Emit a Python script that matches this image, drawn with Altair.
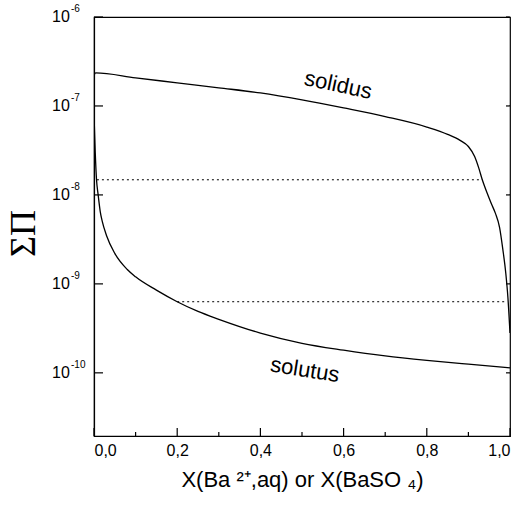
import altair as alt
import pandas as pd

# --- data ---
solidus_x = [0.0, 0.004, 0.1, 0.2, 0.3, 0.4, 0.5, 0.6, 0.7, 0.8, 0.85, 0.88, 0.9, 0.915, 0.925,
             0.933, 0.945, 0.955, 0.965, 0.975, 0.983, 0.99, 0.995, 1.0]
solidus_y = [2.2e-7, 2.35e-7, 2.07e-7, 1.82e-7, 1.6e-7, 1.4e-7, 1.17e-7, 9.5e-8, 7.6e-8, 5.8e-8,
             4.8e-8, 4.1e-8, 3.5e-8, 2.7e-8, 2.0e-8, 1.5e-8, 1.05e-8, 8.0e-9, 6.2e-9, 4.3e-9,
             2.4e-9, 1.3e-9, 7.0e-10, 2.8e-10]

solutus_x = [0.0, 0.003, 0.006, 0.01, 0.015, 0.02, 0.03, 0.05, 0.08, 0.1, 0.15, 0.2, 0.25, 0.3,
             0.4, 0.5, 0.6, 0.7, 0.8, 0.9, 1.0]
solutus_y = [8e-8, 3e-8, 1.5e-8, 1e-8, 6.5e-9, 5e-9, 3.5e-9, 2.2e-9, 1.45e-9, 1.2e-9, 8.5e-10,
             6.3e-10, 4.9e-10, 4.0e-10, 2.8e-10, 2.15e-10, 1.8e-10, 1.55e-10, 1.38e-10, 1.25e-10,
             1.14e-10]

dotted_x_start = [0.007, 0.2]
dotted_x_end = [0.933, 0.992]
dotted_y = [1.48e-8, 6.3e-10]

y_tick_values = [1e-10, 1e-9, 1e-8, 1e-7, 1e-6]
y_tick_exponents = ["-10", "-9", "-8", "-7", "-6"]
x_major = [0.0, 0.2, 0.4, 0.6, 0.8, 1.0]
x_minor = [0.1, 0.3, 0.5, 0.7, 0.9]

curve_names = ["solidus", "solutus"]
curve_label_x = [0.587, 0.507]
curve_label_y = [1.72e-7, 1.08e-10]
curve_label_angle = [12, 9]

# --- tables ---
curves = pd.concat([
    pd.DataFrame({"x": solidus_x, "y": solidus_y, "curve": "solidus"}),
    pd.DataFrame({"x": solutus_x, "y": solutus_y, "curve": "solutus"}),
])
dotted_rows = []
for i, (a, b, yv) in enumerate(zip(dotted_x_start, dotted_x_end, dotted_y)):
    dotted_rows.append({"x": a, "y": yv, "seg": i})
    dotted_rows.append({"x": b, "y": yv, "seg": i})
dotted = pd.DataFrame(dotted_rows)
yticks = pd.DataFrame({"v": y_tick_values, "e": y_tick_exponents})
xmaj = pd.DataFrame({"x": x_major})
xmin = pd.DataFrame({"x": x_minor})
labels = pd.DataFrame({"x": curve_label_x, "y": curve_label_y, "t": curve_names, "a": curve_label_angle})

W, H = 416, 419
xscale = alt.Scale(domain=[0, 1], nice=False, zero=False)
yscale = alt.Scale(type="log", domain=[1.95e-11, 1e-6], nice=False)

x_axis = alt.Axis(
    values=x_major, ticks=False, grid=False, domainColor="black", domainWidth=1.2,
    labelExpr="replace(format(datum.value, '.1f'), '.', ',')",
    labelFontSize=16, labelColor="black", labelPadding=6, labelFont="Liberation Sans",
    title="X(Ba ²⁺,aq) or X(BaSO ₄)", titleFontSize=22, titleFontWeight="normal",
    titleColor="black", titlePadding=11, titleFont="Liberation Sans",
)
y_axis = alt.Axis(
    values=y_tick_values, ticks=False, labels=False, grid=False, domainColor="black", domainWidth=1.2,
    title="ΣΠ", titleFont="Liberation Serif", titleFontSize=36, titleFontWeight="normal",
    titleColor="black", titleAngle=270, titleX=-71, titleY=216, titleAlign="center",
    titleBaseline="middle",
)

X = alt.X("x:Q", scale=xscale, axis=x_axis)
Y = alt.Y("y:Q", scale=yscale, axis=y_axis)

lines = alt.Chart(curves).mark_line(
    color="black", strokeWidth=1.3, clip=True, interpolate="monotone"
).encode(x=X, y=Y, detail="curve:N", order=alt.Order("x:Q"))
dots = alt.Chart(dotted).mark_line(color="black", strokeWidth=1, strokeDash=[2, 3]).encode(
    x=alt.X("x:Q", scale=xscale), y=alt.Y("y:Q", scale=yscale), detail="seg:N"
)

# inward ticks
left_ticks = alt.Chart(yticks).mark_rule(color="black", strokeWidth=1.2).encode(
    y=alt.Y("v:Q", scale=yscale), x=alt.value(0), x2=alt.value(9)
)
right_ticks = alt.Chart(yticks).mark_rule(color="black", strokeWidth=1.2).encode(
    y=alt.Y("v:Q", scale=yscale), x=alt.value(W - 4), x2=alt.value(W)
)
bottom_major = alt.Chart(xmaj).mark_rule(color="black", strokeWidth=1.2).encode(
    x=alt.X("x:Q", scale=xscale), y=alt.value(H - 8), y2=alt.value(H)
)
bottom_minor = alt.Chart(xmin).mark_rule(color="black", strokeWidth=1.2).encode(
    x=alt.X("x:Q", scale=xscale), y=alt.value(H - 4), y2=alt.value(H)
)

# y tick labels: "10" with raised exponent
ten = alt.Chart(yticks).mark_text(
    align="left", baseline="middle", fontSize=16, font="Liberation Sans", color="black"
).encode(y=alt.Y("v:Q", scale=yscale), x=alt.value(-42), text=alt.value("10"))
expo = alt.Chart(yticks).mark_text(
    align="left", baseline="middle", fontSize=10, font="Liberation Sans", color="black", dy=-8
).encode(y=alt.Y("v:Q", scale=yscale), x=alt.value(-23), text="e:N")

curve_text = alt.layer(*[
    alt.Chart(labels.iloc[[i]]).mark_text(
        fontSize=22, font="Liberation Sans", color="black", angle=curve_label_angle[i],
        align="center", baseline="middle"
    ).encode(x=alt.X("x:Q", scale=xscale), y=alt.Y("y:Q", scale=yscale), text="t:N")
    for i in range(len(curve_names))
])

chart = alt.layer(
    lines, dots, left_ticks, right_ticks, bottom_major, bottom_minor, ten, expo, curve_text
).properties(
    width=W, height=H,
    autosize=alt.AutoSizeParams(type="none"),
    padding={"left": 94, "top": 17, "right": 9, "bottom": 77},
    background="white",
).configure_view(stroke="black", strokeWidth=1.2)

chart.save("out.html", embed_options={"renderer": "svg", "actions": False})
